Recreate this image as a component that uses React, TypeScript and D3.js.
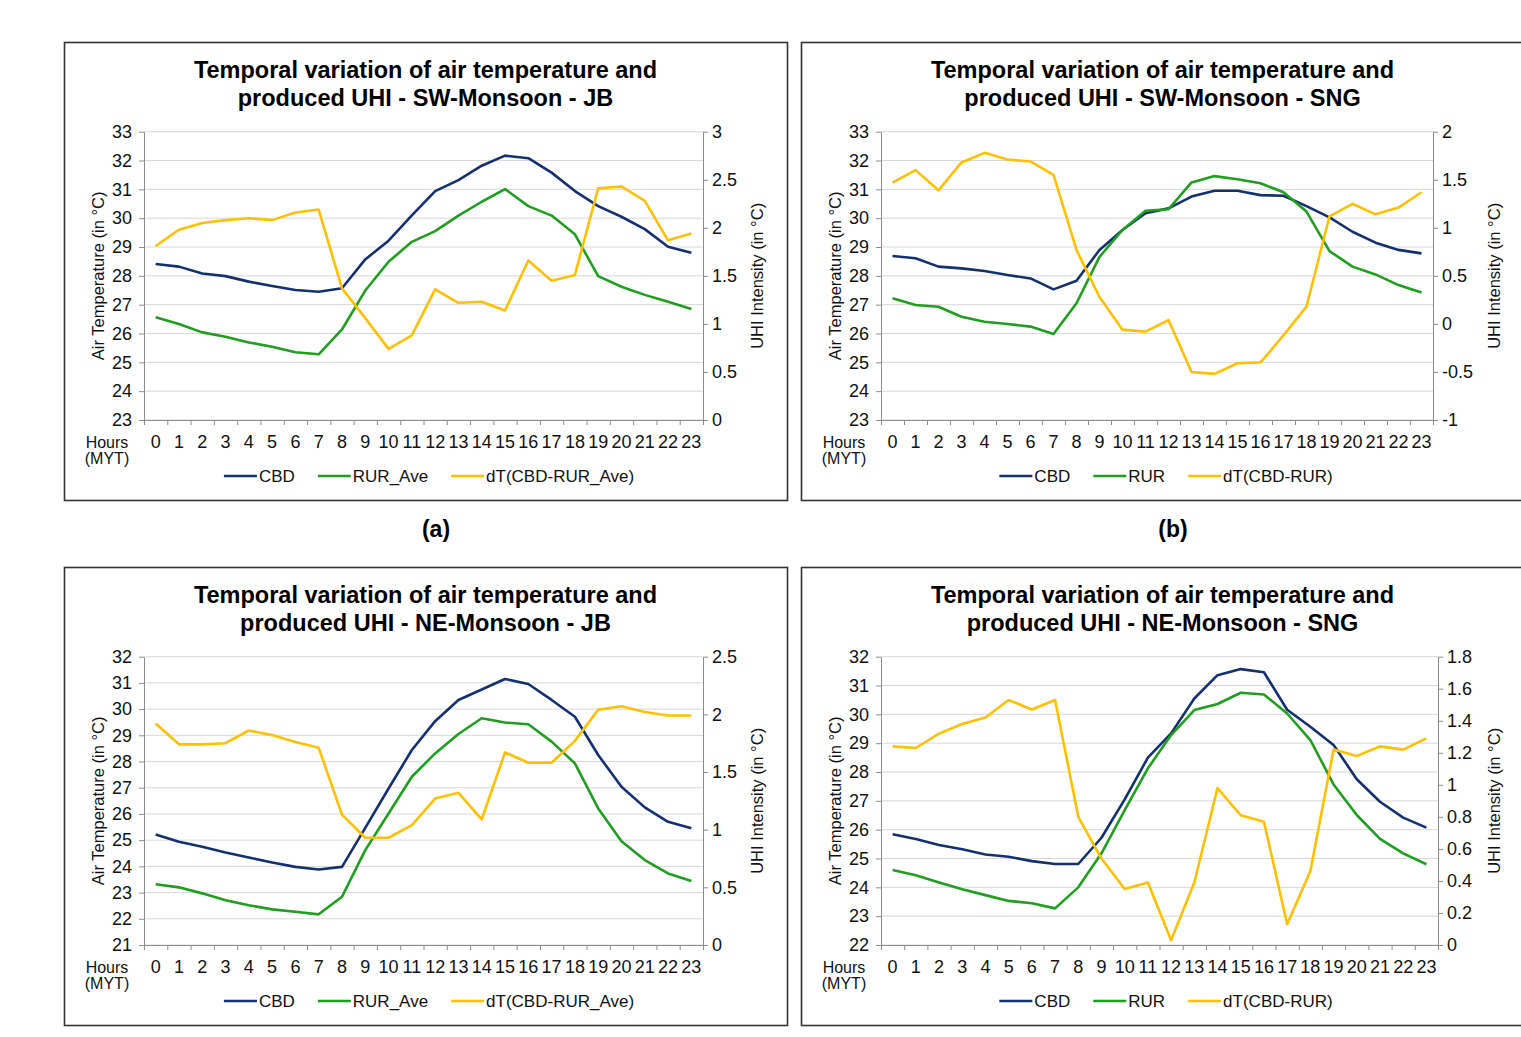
import { useEffect, useRef } from "react";
import * as d3 from "d3";

// hours of the day (MYT)
const hours = ["0", "1", "2", "3", "4", "5", "6", "7", "8", "9", "10", "11", "12", "13", "14", "15", "16", "17", "18", "19", "20", "21", "22", "23"];

// (a) SW-Monsoon - JB
const cbdSwJb = [28.41, 28.32, 28.08, 27.99, 27.8, 27.65, 27.51, 27.45, 27.57, 28.57, 29.22, 30.1, 30.94, 31.32, 31.82, 32.17, 32.08, 31.58, 30.94, 30.42, 30.05, 29.62, 29.01, 28.8];
const rurSwJb = [26.56, 26.33, 26.04, 25.89, 25.69, 25.54, 25.35, 25.28, 26.14, 27.49, 28.49, 29.18, 29.55, 30.09, 30.57, 31.01, 30.42, 30.09, 29.44, 27.99, 27.62, 27.34, 27.1, 26.85];
const dtSwJb = [1.81, 1.98, 2.05, 2.08, 2.1, 2.08, 2.16, 2.19, 1.37, 1.06, 0.74, 0.88, 1.36, 1.22, 1.23, 1.14, 1.66, 1.45, 1.51, 2.41, 2.43, 2.28, 1.87, 1.94];

// (b) SW-Monsoon - SNG
const cbdSwSng = [28.69, 28.61, 28.32, 28.26, 28.17, 28.03, 27.91, 27.53, 27.83, 28.9, 29.59, 30.17, 30.34, 30.75, 30.95, 30.95, 30.8, 30.78, 30.42, 30.03, 29.53, 29.15, 28.9, 28.78];
const rurSwSng = [27.22, 26.99, 26.93, 26.58, 26.41, 26.33, 26.24, 25.98, 27.05, 28.66, 29.59, 30.26, 30.31, 31.24, 31.46, 31.35, 31.21, 30.9, 30.23, 28.86, 28.32, 28.05, 27.68, 27.42];
const dtSwSng = [1.47, 1.6, 1.39, 1.68, 1.78, 1.71, 1.69, 1.55, 0.77, 0.28, -0.06, -0.08, 0.04, -0.5, -0.52, -0.41, -0.4, -0.12, 0.18, 1.12, 1.25, 1.14, 1.21, 1.37];

// (c) NE-Monsoon - JB
const cbdNeJb = [25.22, 24.94, 24.75, 24.53, 24.34, 24.15, 23.98, 23.88, 23.98, 25.47, 26.97, 28.44, 29.54, 30.35, 30.75, 31.15, 30.96, 30.35, 29.71, 28.25, 27.04, 26.25, 25.7, 25.45];
const rurNeJb = [23.32, 23.2, 22.97, 22.71, 22.52, 22.36, 22.27, 22.17, 22.84, 24.62, 26.02, 27.42, 28.31, 29.05, 29.65, 29.49, 29.42, 28.76, 27.93, 26.21, 24.96, 24.24, 23.73, 23.44];
const dtNeJb = [1.92, 1.74, 1.74, 1.75, 1.86, 1.82, 1.76, 1.71, 1.13, 0.93, 0.93, 1.04, 1.27, 1.32, 1.09, 1.67, 1.58, 1.58, 1.77, 2.04, 2.07, 2.02, 1.99, 1.99];

// (d) NE-Monsoon - SNG
const cbdNeSng = [25.84, 25.68, 25.47, 25.32, 25.14, 25.06, 24.91, 24.81, 24.81, 25.72, 27.05, 28.5, 29.34, 30.55, 31.36, 31.57, 31.46, 30.16, 29.57, 28.94, 27.75, 26.97, 26.42, 26.07];
const rurNeSng = [24.6, 24.42, 24.17, 23.93, 23.73, 23.53, 23.45, 23.27, 24.0, 25.18, 26.68, 28.13, 29.28, 30.15, 30.36, 30.75, 30.69, 30.03, 29.11, 27.57, 26.51, 25.68, 25.18, 24.8];
const dtNeSng = [1.24, 1.23, 1.32, 1.38, 1.42, 1.53, 1.47, 1.53, 0.8, 0.54, 0.35, 0.39, 0.03, 0.39, 0.98, 0.81, 0.77, 0.13, 0.46, 1.22, 1.18, 1.24, 1.22, 1.29];

// axis ticks
const tempTicksA = [23, 24, 25, 26, 27, 28, 29, 30, 31, 32, 33];
const uhiTicksA = [0, 0.5, 1, 1.5, 2, 2.5, 3];
const tempTicksB = [23, 24, 25, 26, 27, 28, 29, 30, 31, 32, 33];
const uhiTicksB = [-1, -0.5, 0, 0.5, 1, 1.5, 2];
const tempTicksC = [21, 22, 23, 24, 25, 26, 27, 28, 29, 30, 31, 32];
const uhiTicksC = [0, 0.5, 1, 1.5, 2, 2.5];
const tempTicksD = [22, 23, 24, 25, 26, 27, 28, 29, 30, 31, 32];
const uhiTicksD = [0, 0.2, 0.4, 0.6, 0.8, 1, 1.2, 1.4, 1.6, 1.8];

const COLORS = { cbd: "#14306e", rur: "#1f9e1f", dt: "#ffc000" };
const FONT = "'Liberation Sans', Arial, sans-serif";

const panels = [
  { fx: 64, fy: 42, plotRight: 639, label: "(a)", title: ["Temporal variation of air temperature and", "produced UHI - SW-Monsoon - JB"], names: ["CBD", "RUR_Ave", "dT(CBD-RUR_Ave)"], cbd: cbdSwJb, rur: rurSwJb, dt: dtSwJb, tempTicks: tempTicksA, uhiTicks: uhiTicksA },
  { fx: 801, fy: 42, plotRight: 632, label: "(b)", title: ["Temporal variation of air temperature and", "produced UHI - SW-Monsoon - SNG"], names: ["CBD", "RUR", "dT(CBD-RUR)"], cbd: cbdSwSng, rur: rurSwSng, dt: dtSwSng, tempTicks: tempTicksB, uhiTicks: uhiTicksB },
  { fx: 64, fy: 567, plotRight: 639, label: "", title: ["Temporal variation of air temperature and", "produced UHI - NE-Monsoon - JB"], names: ["CBD", "RUR_Ave", "dT(CBD-RUR_Ave)"], cbd: cbdNeJb, rur: rurNeJb, dt: dtNeJb, tempTicks: tempTicksC, uhiTicks: uhiTicksC },
  { fx: 801, fy: 567, plotRight: 637, label: "", title: ["Temporal variation of air temperature and", "produced UHI - NE-Monsoon - SNG"], names: ["CBD", "RUR", "dT(CBD-RUR)"], cbd: cbdNeSng, rur: rurNeSng, dt: dtNeSng, tempTicks: tempTicksD, uhiTicks: uhiTicksD },
];

function styleAxis(g: any) {
  g.attr("font-family", FONT).attr("font-size", 18);
  g.select(".domain").attr("stroke", "#8c8c8c").attr("stroke-width", 1);
  g.selectAll(".tick line").attr("stroke", "#8c8c8c");
  g.selectAll(".tick text").attr("fill", "#111");
}

function App() {
  const ref = useRef<SVGSVGElement>(null);

  useEffect(() => {
    drawChart();
  }, []);

  function drawChart() {
    const svg = d3.select(ref.current);
    svg.selectAll("*").remove();

    panels.forEach((p) => {
      const g = svg.append("g");
      const left = p.fx + 80;
      const right = p.fx + p.plotRight;
      const top = p.fy + 89.7;
      const bottom = p.fy + 378;

      // frame
      g.append("rect")
        .attr("x", p.fx + 0.5).attr("y", p.fy + 0.5)
        .attr("width", 723).attr("height", 458)
        .attr("fill", "#fff").attr("stroke", "#333").attr("stroke-width", 1.6);

      // title
      g.append("g")
        .selectAll("text")
        .data(p.title)
        .join("text")
        .attr("x", p.fx + 361.5)
        .attr("y", (d, i) => p.fy + 36 + i * 28)
        .attr("text-anchor", "middle")
        .attr("font-family", FONT)
        .attr("font-weight", "bold")
        .attr("font-size", 23.5)
        .attr("fill", "#000")
        .text((d) => d);

      const x = d3.scaleBand().domain(hours).range([left, right]);
      const xEdge = d3.scaleLinear().domain([0, hours.length]).range([left, right]);
      const yL = d3.scaleLinear().domain(d3.extent(p.tempTicks) as [number, number]).range([bottom, top]);
      const yR = d3.scaleLinear().domain(d3.extent(p.uhiTicks) as [number, number]).range([bottom, top]);

      // gridlines
      g.append("g")
        .selectAll("line")
        .data(p.tempTicks)
        .join("line")
        .attr("x1", left).attr("x2", right)
        .attr("y1", (d) => yL(d)).attr("y2", (d) => yL(d))
        .attr("stroke", "#d9d9d9").attr("stroke-width", 1);

      // left axis
      g.append("g")
        .attr("transform", `translate(${left},0)`)
        .call(d3.axisLeft(yL).tickValues(p.tempTicks).tickSize(5).tickPadding(7).tickSizeOuter(0).tickFormat(d3.format("d")))
        .call(styleAxis);

      // right axis
      g.append("g")
        .attr("transform", `translate(${right},0)`)
        .call(d3.axisRight(yR).tickValues(p.uhiTicks).tickSize(5).tickPadding(4).tickSizeOuter(0).tickFormat((d: any) => String(+d.toFixed(1))))
        .call(styleAxis);

      // bottom axis: tick marks between hours
      g.append("g")
        .attr("transform", `translate(0,${bottom})`)
        .call(d3.axisBottom(xEdge).tickValues(d3.range(hours.length + 1)).tickSize(5).tickSizeOuter(0).tickFormat(() => ""))
        .call(styleAxis);

      // bottom axis: hour labels
      g.append("g")
        .attr("transform", `translate(0,${bottom})`)
        .call(d3.axisBottom(x).tickSize(0).tickPadding(15))
        .call(styleAxis)
        .call((a: any) => a.select(".domain").remove());

      // axis titles
      g.append("text")
        .attr("transform", `translate(${p.fx + 40},${(top + bottom) / 2}) rotate(-90)`)
        .attr("text-anchor", "middle")
        .attr("font-family", FONT).attr("font-size", 16.5).attr("fill", "#111")
        .text("Air Temperature (in °C)");
      g.append("text")
        .attr("transform", `translate(${p.fx + 699},${(top + bottom) / 2}) rotate(-90)`)
        .attr("text-anchor", "middle")
        .attr("font-family", FONT).attr("font-size", 16.5).attr("fill", "#111")
        .text("UHI Intensity (in °C)");
      g.append("g")
        .selectAll("text")
        .data(["Hours", "(MYT)"])
        .join("text")
        .attr("x", p.fx + 43)
        .attr("y", (d, i) => p.fy + 406 + i * 16)
        .attr("text-anchor", "middle")
        .attr("font-family", FONT).attr("font-size", 16).attr("fill", "#111")
        .text((d) => d);

      // series
      const xc = (i: number) => (x(hours[i]) as number) + x.bandwidth() / 2;
      const lineL = d3.line<number>().x((d, i) => xc(i)).y((d) => yL(d));
      const lineR = d3.line<number>().x((d, i) => xc(i)).y((d) => yR(d));
      const series = [
        { path: lineL(p.cbd), color: COLORS.cbd },
        { path: lineL(p.rur), color: COLORS.rur },
        { path: lineR(p.dt), color: COLORS.dt },
      ];
      g.append("g")
        .selectAll("path")
        .data(series)
        .join("path")
        .attr("d", (d) => d.path)
        .attr("fill", "none")
        .attr("stroke", (d) => d.color)
        .attr("stroke-width", 2.6)
        .attr("stroke-linejoin", "round");

      // legend
      const legendColors = [COLORS.cbd, COLORS.rur, COLORS.dt];
      const lg = g.append("g");
      const items = lg.selectAll("g").data(p.names).join("g");
      items.append("line")
        .attr("x1", 0).attr("x2", 33)
        .attr("y1", p.fy + 434).attr("y2", p.fy + 434)
        .attr("stroke", (d, i) => legendColors[i]).attr("stroke-width", 2.6);
      items.append("text")
        .attr("x", 35).attr("y", p.fy + 440)
        .attr("font-family", FONT).attr("font-size", 17).attr("fill", "#111")
        .text((d) => d);
      let cursor = 0;
      const offsets: number[] = [];
      items.each(function () {
        offsets.push(cursor);
        const w = (d3.select(this).select("text").node() as SVGTextElement).getComputedTextLength();
        cursor += 35 + w + 23;
      });
      const total = cursor - 23;
      const start = p.fx + 365 - total / 2;
      items.attr("transform", (d, i) => `translate(${start + offsets[i]},0)`);

      // sub-figure label
      if (p.label) {
        svg.append("text")
          .attr("x", p.fx + 372).attr("y", 537)
          .attr("text-anchor", "middle")
          .attr("font-family", FONT).attr("font-weight", "bold").attr("font-size", 23)
          .attr("fill", "#000")
          .text(p.label);
      }
    });
  }

  return (
    <svg
      ref={ref}
      width={1521}
      height={1037}
      style={{ position: "absolute", left: 0, top: 0, background: "#fff" }}
    />
  );
}

export default App;
